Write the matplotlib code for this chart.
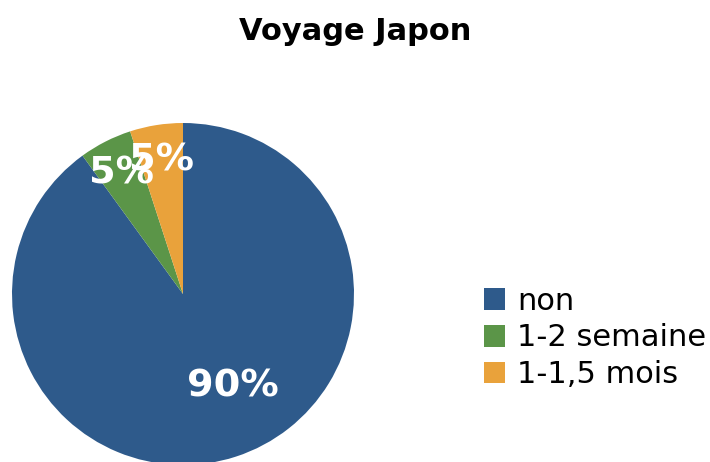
import matplotlib
matplotlib.use("Agg")
import matplotlib.pyplot as plt

labels = ["non", "1-2 semaine", "1-1,5 mois"]
values = [90, 5, 5]
colors = ["#2E5A8B", "#5B9548", "#E9A23B"]

W, H = 710, 462
fig = plt.figure(figsize=(W / 100, H / 100), dpi=100)

# pie centre and radius in pixels
cx, cy, r = 183, 294, 171
ax = fig.add_axes([(cx - r) / W, (H - cy - r) / H, 2 * r / W, 2 * r / H])

wedges, texts, autotexts = ax.pie(values, colors=colors, startangle=90, counterclock=False,
                                  radius=1, autopct="%d%%", pctdistance=0.79,
                                  wedgeprops=dict(linewidth=0),
                                  textprops=dict(color="white", fontsize=27.5, fontweight="bold"))
ax.set_xlim(-1, 1)
ax.set_ylim(-1, 1)
ax.axis("off")
for w in wedges:
    w.set_clip_on(False)
# big slice label sits closer to the middle
autotexts[0].set_position((0.29, -0.54))

fig.text(0.5, 1 - 32 / H, "Voyage Japon", ha="center", va="center",
         fontsize=22, fontweight="bold")

fig.legend(wedges, labels, loc="center left", bbox_to_anchor=(456 / W, 1 - 338 / H),
           frameon=False, fontsize=22, handlelength=0.7, handleheight=0.7,
           handletextpad=0.4, labelspacing=0.25)

fig.savefig("out.png", dpi=100)
